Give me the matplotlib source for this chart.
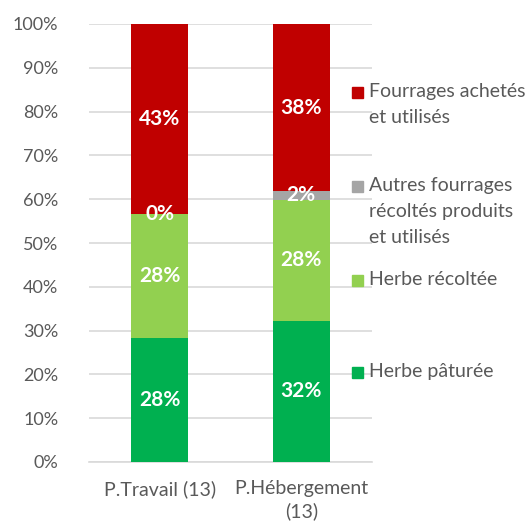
import numpy as np
import matplotlib.pyplot as plt
from matplotlib.patches import Rectangle

plt.rcParams['font.family'] = ['Lato', 'DejaVu Sans']

categories = ['P.Travail (13)', 'P.Hébergement\n(13)']
series = ['Herbe pâturée', 'Herbe récoltée',
          'Autres fourrages\nrécoltés produits\net utilisés',
          'Fourrages achetés\net utilisés']
herbe_paturee = [28.4, 32.3]
herbe_recoltee = [28.3, 27.6]
autres = [0.0, 1.9]
achetes = [43.3, 38.2]
colors = ['#00B050', '#92D050', '#A5A5A5', '#C00000']

fig = plt.figure(figsize=(5.28, 5.24), dpi=100)
ax = fig.add_axes([89 / 528, 1 - 462 / 524, (372 - 89) / 528, (462 - 24) / 524])

x = np.arange(len(categories))
bottom = np.zeros(len(categories))
for vals, col in zip([herbe_paturee, herbe_recoltee, autres, achetes], colors):
    vals = np.array(vals)
    ax.bar(x, vals, 0.4, bottom=bottom, color=col, zorder=3)
    for xi, b, v in zip(x, bottom, vals):
        ax.text(xi, b + v / 2, f'{round(v)}%', ha='center', va='center',
                color='white', fontsize=15, fontweight='bold', zorder=4)
    bottom += vals

ax.set_xlim(-0.5, 1.5)
ax.set_ylim(0, 100)
ax.set_yticks(np.arange(0, 101, 10))
ax.set_yticklabels([f'{t}%' for t in range(0, 101, 10)])
ax.set_xticks(x)
ax.set_xticklabels(categories, linespacing=1.35)
ax.grid(axis='y', color='#D9D9D9', linewidth=1.2, zorder=0)
for s in ['top', 'right', 'left']:
    ax.spines[s].set_visible(False)
ax.spines['bottom'].set_color('#D9D9D9')
ax.spines['bottom'].set_linewidth(1.2)
ax.tick_params(axis='both', length=0, labelcolor='#595959')
ax.tick_params(axis='y', pad=22, labelsize=13)
ax.tick_params(axis='x', pad=13, labelsize=14)

# legend drawn by hand to match the uneven spacing
legend_y = [372, 280, 186, 92]
for name, col, yy in zip(series, colors, legend_y):
    fig.patches.append(Rectangle((352 / 528, 1 - (yy + 6) / 524), 11 / 528, 11 / 524,
                                 transform=fig.transFigure, color=col, zorder=5))
    fig.text(369 / 528, 1 - (yy - 9) / 524, name, ha='left', va='top',
             fontsize=14, color='#595959', linespacing=1.65)

fig.savefig('out.png', dpi=100)
